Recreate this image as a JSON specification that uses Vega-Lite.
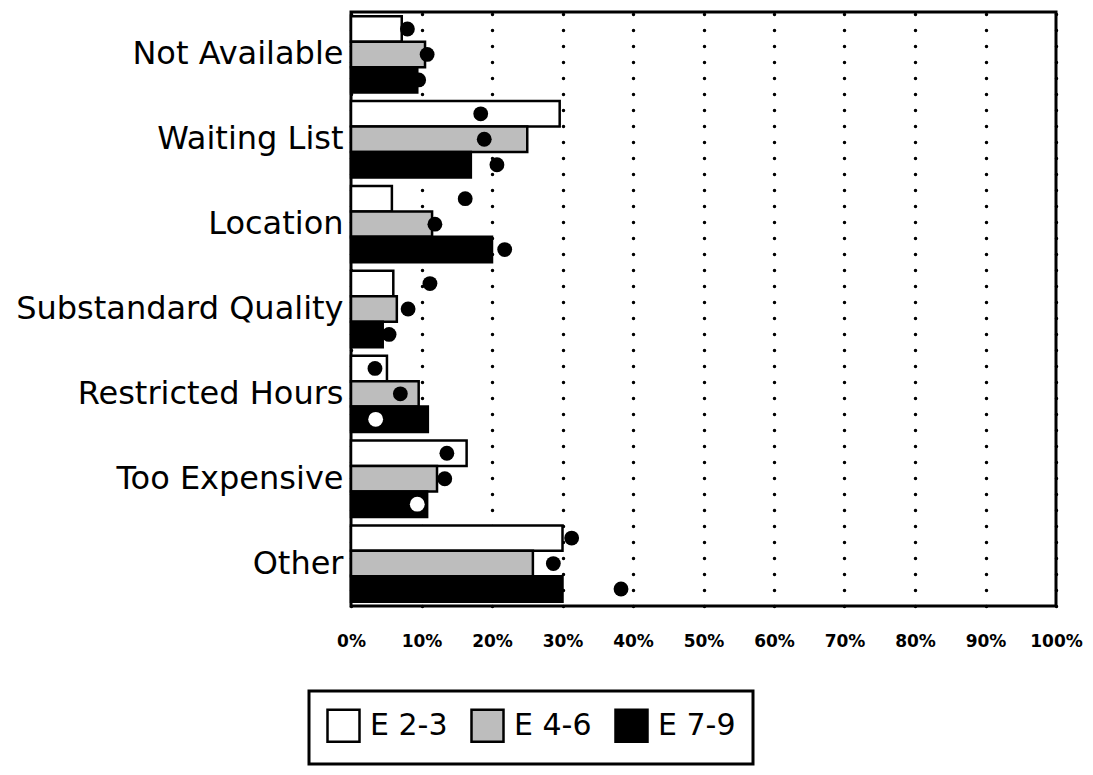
{
  "$schema": "https://vega.github.io/schema/vega-lite/v6.json",
  "width": 705,
  "height": 594,
  "autosize": {"type": "none"},
  "padding": {"left": 351, "top": 12, "right": 37, "bottom": 169},
  "background": "white",
  "data": {"values": [
    {"cat": "Not Available", "group": "E 2-3", "value": 7.2, "dot": 8.0},
    {"cat": "Not Available", "group": "E 4-6", "value": 10.5, "dot": 10.8},
    {"cat": "Not Available", "group": "E 7-9", "value": 9.4, "dot": 9.6},
    {"cat": "Waiting List", "group": "E 2-3", "value": 29.6, "dot": 18.4},
    {"cat": "Waiting List", "group": "E 4-6", "value": 25.0, "dot": 18.9},
    {"cat": "Waiting List", "group": "E 7-9", "value": 17.0, "dot": 20.7},
    {"cat": "Location", "group": "E 2-3", "value": 5.8, "dot": 16.2},
    {"cat": "Location", "group": "E 4-6", "value": 11.5, "dot": 11.9},
    {"cat": "Location", "group": "E 7-9", "value": 20.0, "dot": 21.8},
    {"cat": "Substandard Quality", "group": "E 2-3", "value": 6.0, "dot": 11.2},
    {"cat": "Substandard Quality", "group": "E 4-6", "value": 6.5, "dot": 8.1},
    {"cat": "Substandard Quality", "group": "E 7-9", "value": 4.5, "dot": 5.4},
    {"cat": "Restricted Hours", "group": "E 2-3", "value": 5.1, "dot": 3.4},
    {"cat": "Restricted Hours", "group": "E 4-6", "value": 9.6, "dot": 7.0},
    {"cat": "Restricted Hours", "group": "E 7-9", "value": 10.9, "dot": 3.5},
    {"cat": "Too Expensive", "group": "E 2-3", "value": 16.4, "dot": 13.6},
    {"cat": "Too Expensive", "group": "E 4-6", "value": 12.2, "dot": 13.3},
    {"cat": "Too Expensive", "group": "E 7-9", "value": 10.8, "dot": 9.4},
    {"cat": "Other", "group": "E 2-3", "value": 30.0, "dot": 31.3},
    {"cat": "Other", "group": "E 4-6", "value": 25.8, "dot": 28.7},
    {"cat": "Other", "group": "E 7-9", "value": 30.0, "dot": 38.3}
  ]},
  "encoding": {
    "y": {
      "field": "cat", "type": "nominal",
      "sort": ["Not Available", "Waiting List", "Location", "Substandard Quality", "Restricted Hours", "Too Expensive", "Other"],
      "scale": {"paddingInner": 0.1, "paddingOuter": 0.05},
      "axis": {"title": null, "ticks": false, "domain": false, "labelFont": "DejaVu Sans", "labelFontSize": 32, "labelColor": "black", "labelPadding": 8, "labelLimit": 0}
    },
    "yOffset": {"field": "group", "type": "nominal", "sort": ["E 2-3", "E 4-6", "E 7-9"], "scale": {"paddingInner": 0, "paddingOuter": 0}},
    "x": {
      "field": "value", "type": "quantitative",
      "scale": {"domain": [0, 100], "nice": false},
      "axis": {
        "title": null, "values": [0,10,20,30,40,50,60,70,80,90,100],
        "labelExpr": "datum.value + '%'",
        "ticks": false, "domain": false,
        "labelFont": "DejaVu Sans", "labelFontSize": 17, "labelFontWeight": "bold", "labelColor": "black", "labelPadding": 27,
        "grid": true, "gridColor": "black", "gridWidth": 3.5, "gridDash": [0.1, 15.9], "gridCap": "round", "gridOpacity": 1,
        "labelFlush": false
      }
    }
  },
  "layer": [
    {
      "mark": {"type": "bar", "stroke": "black", "strokeWidth": 2.5},
      "encoding": {
        "fill": {
          "field": "group", "type": "nominal",
          "scale": {"domain": ["E 2-3", "E 4-6", "E 7-9"], "range": ["white", "#bdbdbd", "black"]},
          "legend": {
            "title": null, "orient": "none", "legendX": -42, "legendY": 679, "direction": "horizontal",
            "symbolType": "square", "symbolSize": 1024, "symbolStrokeColor": "black", "symbolStrokeWidth": 2.5,
            "labelFont": "DejaVu Sans", "labelFontSize": 30, "labelColor": "black",
            "strokeColor": "black", "padding": 17, "columnPadding": 18, "labelOffset": 9,
            "fillColor": "white"
          }
        }
      }
    },
    {
      "mark": {"type": "circle", "size": 220, "opacity": 1},
      "encoding": {
        "x": {"field": "dot", "type": "quantitative"},
        "color": {
          "condition": {"test": "datum.group == 'E 7-9' && datum.dot < datum.value", "value": "white"},
          "value": "black"
        }
      }
    }
  ],
  "config": {
    "view": {"stroke": "black", "strokeWidth": 3},
    "legend": {"strokeWidth": 3}
  }
}
